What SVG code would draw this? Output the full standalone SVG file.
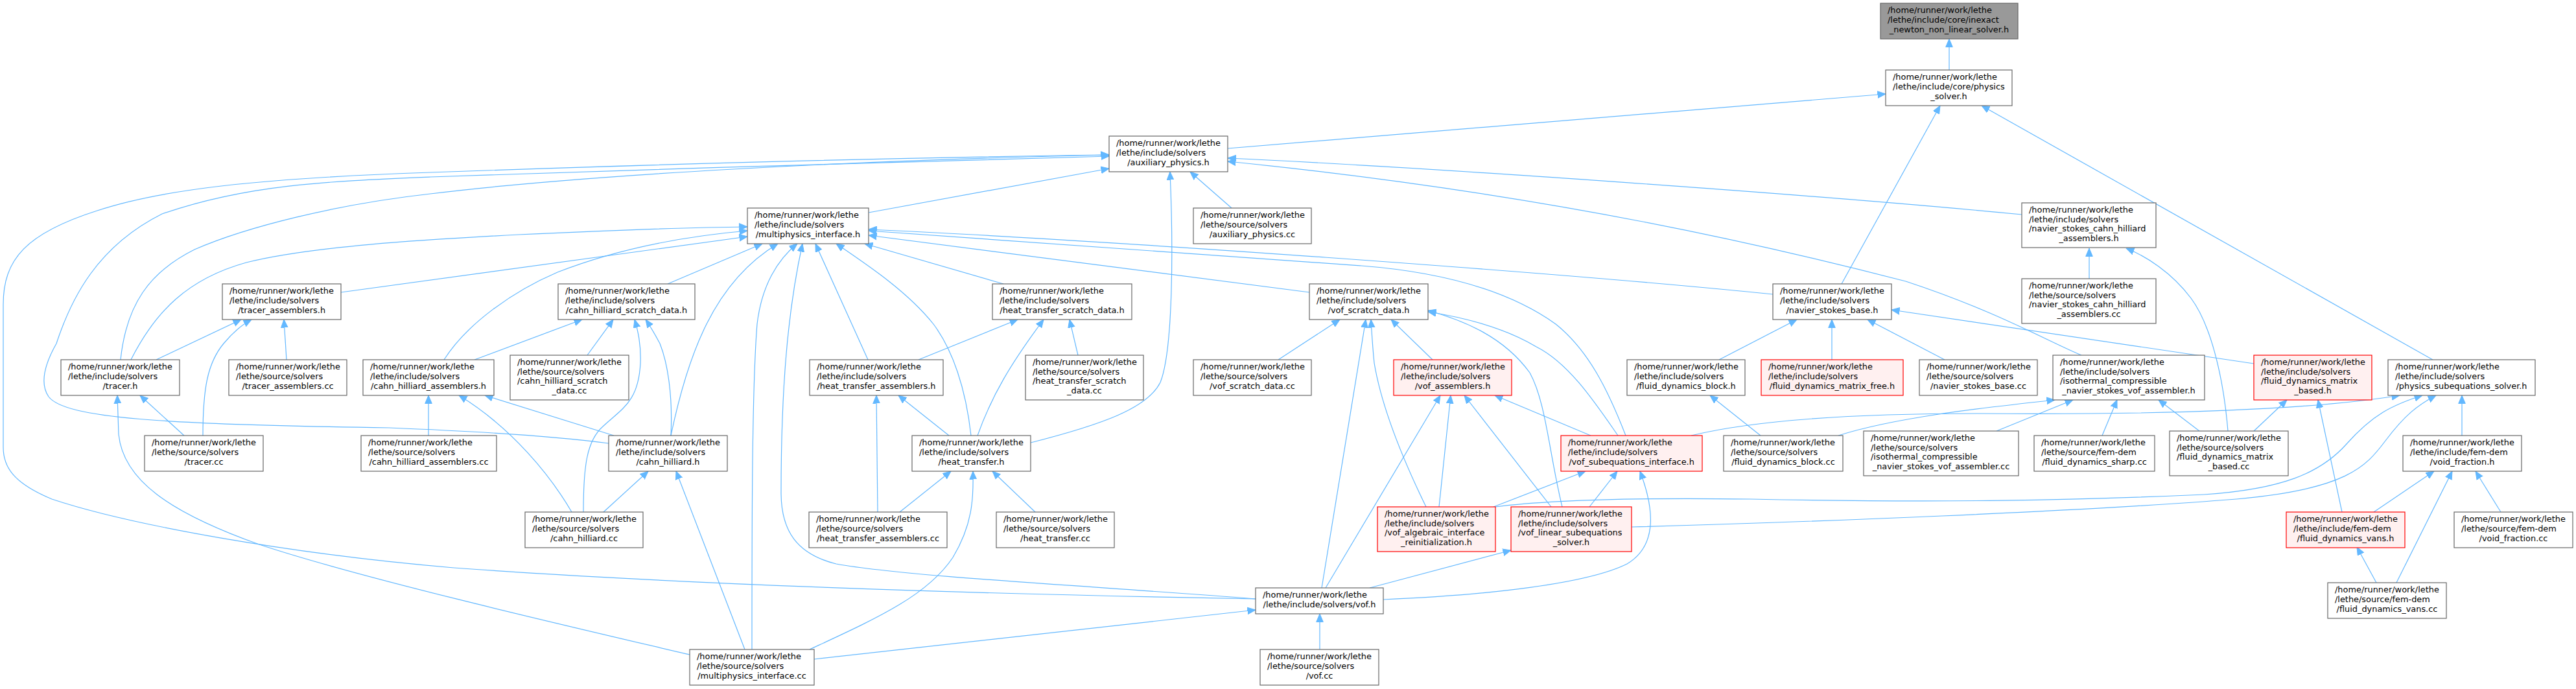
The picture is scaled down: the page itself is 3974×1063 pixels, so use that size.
<svg xmlns="http://www.w3.org/2000/svg" width="3974" height="1063" viewBox="0 0 3974 1063">
<style>
.node rect{fill:#ffffff;stroke:#666666;stroke-width:1.2}
.red rect{fill:#fff0f0;stroke:#ff0000}
.gray rect{fill:#999999}
text{font-family:"DejaVu Sans",sans-serif;font-size:12.9px;fill:#000000}
.c{text-anchor:middle}
.edge{fill:none;stroke:#63b8ff;stroke-width:1.2;marker-end:url(#arr)}
</style>
<defs>
<marker id="arr" markerUnits="userSpaceOnUse" viewBox="0 -6 13 12" markerWidth="13" markerHeight="12" refX="12.5" refY="0" orient="auto"><path d="M0,-5.3 L12.5,0 L0,5.3 Z" fill="#63b8ff" stroke="#63b8ff" stroke-width="1"/></marker>
</defs>
<rect x="0" y="0" width="3974" height="1063" fill="#ffffff"/>
<g id="connectors">
<path class="edge" d="M3007,108 L3007,60"/>
<path class="edge" d="M1894,229 L2909,145"/>
<path class="edge" d="M2841,438 L2993,163"/>
<path class="edge" d="M3753,555 L3057,163"/>
<path class="edge" d="M1937,924 C1600,918 1100,905 700,876 C450,855 200,810 80,770 C20,745 5,720 5,690 L5,470 C5,400 40,360 150,325 C250,292 400,275 664,266 C1000,254 1400,243 1711,239"/>
<path class="edge" d="M939,684 C850,672 700,664 600,660 C250,655 100,645 75,612 C60,590 70,560 87,530 C110,460 150,380 250,330 C380,285 500,280 664,273 C1000,262 1400,248 1711,241"/>
<path class="edge" d="M186,555 C195,470 230,420 300,385 C380,350 520,315 664,299 C900,270 1300,248 1711,239"/>
<path class="edge" d="M1340,328 L1711,260"/>
<path class="edge" d="M1590,683 C1700,655 1770,630 1790,590 C1810,540 1810,380 1805,265"/>
<path class="edge" d="M1900,321 L1836,265"/>
<path class="edge" d="M3119,331 C2800,300 2200,258 1894,244"/>
<path class="edge" d="M3211,548 C3160,527 3080,480 2940,434 C2750,385 2400,300 1894,249"/>
<path class="edge" d="M202,555 C240,480 290,430 380,405 C480,380 650,370 800,362 C950,355 1050,351 1153,350"/>
<path class="edge" d="M685,555 C720,500 790,450 860,420 C950,385 1050,365 1153,356"/>
<path class="edge" d="M526,451 L1153,365"/>
<path class="edge" d="M1030,438 L1176,376"/>
<path class="edge" d="M1035,672 C1050,600 1070,540 1090,500 C1120,440 1160,400 1200,376"/>
<path class="edge" d="M1160,1002 C1160,800 1160,600 1168,500 C1175,440 1200,400 1230,376"/>
<path class="edge" d="M1937,924 C1700,905 1400,890 1290,870 C1230,855 1205,820 1205,760 C1205,600 1215,480 1238,376"/>
<path class="edge" d="M1339,555 L1258,376"/>
<path class="edge" d="M1498,672 C1490,600 1470,540 1440,500 C1400,450 1340,410 1290,376"/>
<path class="edge" d="M1548,438 L1334,376"/>
<path class="edge" d="M2735,454 C2400,420 1700,370 1340,354"/>
<path class="edge" d="M2508,672 C2480,600 2450,540 2400,500 C2330,450 2230,420 2100,410 C1800,390 1500,365 1340,356"/>
<path class="edge" d="M2020,451 L1340,363"/>
<path class="edge" d="M241,555 L372,493"/>
<path class="edge" d="M313,672 C313,600 320,560 345,530 C360,512 375,500 388,493"/>
<path class="edge" d="M442,555 L438,493"/>
<path class="edge" d="M284,672 L216,610"/>
<path class="edge" d="M1064,1010 C850,960 550,890 400,840 C260,790 190,740 183,670 L181,610"/>
<path class="edge" d="M732,555 L898,493"/>
<path class="edge" d="M906,548 L946,493"/>
<path class="edge" d="M900,790 C900,720 905,680 930,658 C960,630 985,620 988,560 C989,530 984,510 979,493"/>
<path class="edge" d="M1035,672 C1038,610 1030,560 1018,530 C1010,515 1003,503 996,493"/>
<path class="edge" d="M661,672 L661,610"/>
<path class="edge" d="M882,790 C850,735 790,660 708,610"/>
<path class="edge" d="M947,672 L748,610"/>
<path class="edge" d="M931,790 L1000,727"/>
<path class="edge" d="M1149,1002 L1043,727"/>
<path class="edge" d="M1417,555 L1570,493"/>
<path class="edge" d="M1508,672 C1530,610 1560,560 1610,493"/>
<path class="edge" d="M1663,548 L1650,493"/>
<path class="edge" d="M1354,790 L1352,610"/>
<path class="edge" d="M1464,672 L1386,610"/>
<path class="edge" d="M1388,790 L1467,727"/>
<path class="edge" d="M1249,1002 C1350,955 1430,920 1470,860 C1500,810 1502,770 1501,727"/>
<path class="edge" d="M1597,790 L1531,727"/>
<path class="edge" d="M1972,555 L2067,493"/>
<path class="edge" d="M2039,907 L2107,493"/>
<path class="edge" d="M2200,782 C2160,700 2130,620 2120,560 C2117,530 2116,510 2115,493"/>
<path class="edge" d="M2210,555 L2146,493"/>
<path class="edge" d="M2410,782 C2390,700 2385,620 2360,575 C2320,520 2260,495 2203,479"/>
<path class="edge" d="M2496,672 C2460,620 2420,560 2370,535 C2320,505 2260,490 2203,481"/>
<path class="edge" d="M2045,907 L2222,610"/>
<path class="edge" d="M2220,782 L2238,610"/>
<path class="edge" d="M2393,782 L2259,610"/>
<path class="edge" d="M2454,672 L2306,610"/>
<path class="edge" d="M2304,782 L2446,727"/>
<path class="edge" d="M2452,782 L2495,727"/>
<path class="edge" d="M2134,925 C2300,918 2450,900 2510,870 C2560,840 2550,780 2530,727"/>
<path class="edge" d="M2113,907 L2331,849"/>
<path class="edge" d="M2036,1002 L2036,947"/>
<path class="edge" d="M1256,1017 L1937,941"/>
<path class="edge" d="M2609,672 C2700,650 2850,638 3050,638 C3300,640 3550,635 3702,610"/>
<path class="edge" d="M2307,782 C2400,770 2550,768 2700,770 C3000,776 3200,772 3400,763 C3520,755 3580,730 3620,685 C3660,640 3690,625 3737,610"/>
<path class="edge" d="M2517,813 C2800,805 3200,790 3450,770 C3620,755 3650,720 3680,680 C3710,640 3730,625 3758,610"/>
<path class="edge" d="M3798,672 L3798,610"/>
<path class="edge" d="M2652,555 L2772,493"/>
<path class="edge" d="M2826,555 L2826,493"/>
<path class="edge" d="M3000,555 L2881,493"/>
<path class="edge" d="M3477,561 L2918,478"/>
<path class="edge" d="M2716,672 L2638,610"/>
<path class="edge" d="M2836,672 C2920,645 3050,630 3170,617"/>
<path class="edge" d="M3080,665 L3198,617"/>
<path class="edge" d="M3243,672 L3266,617"/>
<path class="edge" d="M3393,665 L3330,617"/>
<path class="edge" d="M3437,665 C3430,580 3410,500 3380,460 C3350,420 3310,395 3280,383"/>
<path class="edge" d="M3223,430 L3223,383"/>
<path class="edge" d="M3477,665 L3528,617"/>
<path class="edge" d="M3613,790 L3576,617"/>
<path class="edge" d="M3662,790 L3755,727"/>
<path class="edge" d="M3697,899 L3783,727"/>
<path class="edge" d="M3858,790 L3819,727"/>
<path class="edge" d="M3666,899 L3636,844"/>
</g>
<g id="n_inexact" class="node gray"><rect x="2901" y="5" width="212" height="55"/><text x="2912" y="20.3">/home/runner/work/lethe</text><text x="2912" y="35">/lethe/include/core/inexact</text><text class="c" x="3007" y="49.7">_newton_non_linear_solver.h</text></g>
<g id="n_physics_solver" class="node"><rect x="2909" y="108" width="195" height="55"/><text x="2920" y="123.3">/home/runner/work/lethe</text><text x="2920" y="138">/lethe/include/core/physics</text><text class="c" x="3006.5" y="152.7">_solver.h</text></g>
<g id="n_aux_h" class="node"><rect x="1711" y="210" width="183" height="55"/><text x="1722" y="225.3">/home/runner/work/lethe</text><text x="1722" y="240">/lethe/include/solvers</text><text class="c" x="1802.5" y="254.7">/auxiliary_physics.h</text></g>
<g id="n_mpi_h" class="node"><rect x="1153" y="321" width="187" height="55"/><text x="1164" y="336.3">/home/runner/work/lethe</text><text x="1164" y="351">/lethe/include/solvers</text><text class="c" x="1246.5" y="365.7">/multiphysics_interface.h</text></g>
<g id="n_aux_cc" class="node"><rect x="1841" y="321" width="182" height="55"/><text x="1852" y="336.3">/home/runner/work/lethe</text><text x="1852" y="351">/lethe/source/solvers</text><text class="c" x="1932" y="365.7">/auxiliary_physics.cc</text></g>
<g id="n_nsch_h" class="node"><rect x="3119" y="313" width="207" height="69"/><text x="3130" y="328">/home/runner/work/lethe</text><text x="3130" y="342.7">/lethe/include/solvers</text><text x="3130" y="357.4">/navier_stokes_cahn_hilliard</text><text class="c" x="3222.5" y="372.1">_assemblers.h</text></g>
<g id="n_tracer_asm_h" class="node"><rect x="343" y="438" width="183" height="55"/><text x="354" y="453.3">/home/runner/work/lethe</text><text x="354" y="468">/lethe/include/solvers</text><text class="c" x="434.5" y="482.7">/tracer_assemblers.h</text></g>
<g id="n_chsd_h" class="node"><rect x="861" y="438" width="211" height="55"/><text x="872" y="453.3">/home/runner/work/lethe</text><text x="872" y="468">/lethe/include/solvers</text><text class="c" x="966.5" y="482.7">/cahn_hilliard_scratch_data.h</text></g>
<g id="n_htsd_h" class="node"><rect x="1531" y="438" width="215" height="55"/><text x="1542" y="453.3">/home/runner/work/lethe</text><text x="1542" y="468">/lethe/include/solvers</text><text class="c" x="1638.5" y="482.7">/heat_transfer_scratch_data.h</text></g>
<g id="n_vsd_h" class="node"><rect x="2020" y="438" width="183" height="55"/><text x="2031" y="453.3">/home/runner/work/lethe</text><text x="2031" y="468">/lethe/include/solvers</text><text class="c" x="2111.5" y="482.7">/vof_scratch_data.h</text></g>
<g id="n_nsb_h" class="node"><rect x="2735" y="438" width="183" height="55"/><text x="2746" y="453.3">/home/runner/work/lethe</text><text x="2746" y="468">/lethe/include/solvers</text><text class="c" x="2826.5" y="482.7">/navier_stokes_base.h</text></g>
<g id="n_nsch_cc" class="node"><rect x="3119" y="430" width="207" height="69"/><text x="3130" y="445">/home/runner/work/lethe</text><text x="3130" y="459.7">/lethe/source/solvers</text><text x="3130" y="474.4">/navier_stokes_cahn_hilliard</text><text class="c" x="3222.5" y="489.1">_assemblers.cc</text></g>
<g id="n_tracer_h" class="node"><rect x="94" y="555" width="183" height="55"/><text x="105" y="570.3">/home/runner/work/lethe</text><text x="105" y="585">/lethe/include/solvers</text><text class="c" x="185.5" y="599.7">/tracer.h</text></g>
<g id="n_tracer_asm_cc" class="node"><rect x="353" y="555" width="182" height="55"/><text x="364" y="570.3">/home/runner/work/lethe</text><text x="364" y="585">/lethe/source/solvers</text><text class="c" x="444" y="599.7">/tracer_assemblers.cc</text></g>
<g id="n_cha_h" class="node"><rect x="560" y="555" width="202" height="55"/><text x="571" y="570.3">/home/runner/work/lethe</text><text x="571" y="585">/lethe/include/solvers</text><text class="c" x="661" y="599.7">/cahn_hilliard_assemblers.h</text></g>
<g id="n_chsd_cc" class="node"><rect x="787" y="548" width="183" height="69"/><text x="798" y="563">/home/runner/work/lethe</text><text x="798" y="577.7">/lethe/source/solvers</text><text x="798" y="592.4">/cahn_hilliard_scratch</text><text class="c" x="878.5" y="607.1">_data.cc</text></g>
<g id="n_hta_h" class="node"><rect x="1249" y="555" width="206" height="55"/><text x="1260" y="570.3">/home/runner/work/lethe</text><text x="1260" y="585">/lethe/include/solvers</text><text class="c" x="1352" y="599.7">/heat_transfer_assemblers.h</text></g>
<g id="n_htsd_cc" class="node"><rect x="1582" y="548" width="182" height="69"/><text x="1593" y="563">/home/runner/work/lethe</text><text x="1593" y="577.7">/lethe/source/solvers</text><text x="1593" y="592.4">/heat_transfer_scratch</text><text class="c" x="1673" y="607.1">_data.cc</text></g>
<g id="n_vsd_cc" class="node"><rect x="1841" y="555" width="182" height="55"/><text x="1852" y="570.3">/home/runner/work/lethe</text><text x="1852" y="585">/lethe/source/solvers</text><text class="c" x="1932" y="599.7">/vof_scratch_data.cc</text></g>
<g id="n_vofasm_h" class="node red"><rect x="2150" y="555" width="182" height="55"/><text x="2161" y="570.3">/home/runner/work/lethe</text><text x="2161" y="585">/lethe/include/solvers</text><text class="c" x="2241" y="599.7">/vof_assemblers.h</text></g>
<g id="n_fdb_h" class="node"><rect x="2510" y="555" width="182" height="55"/><text x="2521" y="570.3">/home/runner/work/lethe</text><text x="2521" y="585">/lethe/include/solvers</text><text class="c" x="2601" y="599.7">/fluid_dynamics_block.h</text></g>
<g id="n_fdmf_h" class="node red"><rect x="2717" y="555" width="219" height="55"/><text x="2728" y="570.3">/home/runner/work/lethe</text><text x="2728" y="585">/lethe/include/solvers</text><text class="c" x="2826.5" y="599.7">/fluid_dynamics_matrix_free.h</text></g>
<g id="n_nsb_cc" class="node"><rect x="2961" y="555" width="182" height="55"/><text x="2972" y="570.3">/home/runner/work/lethe</text><text x="2972" y="585">/lethe/source/solvers</text><text class="c" x="3052" y="599.7">/navier_stokes_base.cc</text></g>
<g id="n_iso_h" class="node"><rect x="3167" y="548" width="234" height="69"/><text x="3178" y="563">/home/runner/work/lethe</text><text x="3178" y="577.7">/lethe/include/solvers</text><text x="3178" y="592.4">/isothermal_compressible</text><text class="c" x="3284" y="607.1">_navier_stokes_vof_assembler.h</text></g>
<g id="n_fdmb_h" class="node red"><rect x="3477" y="548" width="182" height="69"/><text x="3488" y="563">/home/runner/work/lethe</text><text x="3488" y="577.7">/lethe/include/solvers</text><text x="3488" y="592.4">/fluid_dynamics_matrix</text><text class="c" x="3568" y="607.1">_based.h</text></g>
<g id="n_pss_h" class="node"><rect x="3684" y="555" width="227" height="55"/><text x="3695" y="570.3">/home/runner/work/lethe</text><text x="3695" y="585">/lethe/include/solvers</text><text class="c" x="3797.5" y="599.7">/physics_subequations_solver.h</text></g>
<g id="n_tracer_cc" class="node"><rect x="223" y="672" width="183" height="55"/><text x="234" y="687.3">/home/runner/work/lethe</text><text x="234" y="702">/lethe/source/solvers</text><text class="c" x="314.5" y="716.7">/tracer.cc</text></g>
<g id="n_cha_cc" class="node"><rect x="557" y="672" width="209" height="55"/><text x="568" y="687.3">/home/runner/work/lethe</text><text x="568" y="702">/lethe/source/solvers</text><text class="c" x="661.5" y="716.7">/cahn_hilliard_assemblers.cc</text></g>
<g id="n_ch_h" class="node"><rect x="939" y="672" width="183" height="55"/><text x="950" y="687.3">/home/runner/work/lethe</text><text x="950" y="702">/lethe/include/solvers</text><text class="c" x="1030.5" y="716.7">/cahn_hilliard.h</text></g>
<g id="n_ht_h" class="node"><rect x="1407" y="672" width="183" height="55"/><text x="1418" y="687.3">/home/runner/work/lethe</text><text x="1418" y="702">/lethe/include/solvers</text><text class="c" x="1498.5" y="716.7">/heat_transfer.h</text></g>
<g id="n_vsi_h" class="node red"><rect x="2408" y="672" width="218" height="55"/><text x="2419" y="687.3">/home/runner/work/lethe</text><text x="2419" y="702">/lethe/include/solvers</text><text class="c" x="2517" y="716.7">/vof_subequations_interface.h</text></g>
<g id="n_fdb_cc" class="node"><rect x="2659" y="672" width="184" height="55"/><text x="2670" y="687.3">/home/runner/work/lethe</text><text x="2670" y="702">/lethe/source/solvers</text><text class="c" x="2751" y="716.7">/fluid_dynamics_block.cc</text></g>
<g id="n_iso_cc" class="node"><rect x="2875" y="665" width="239" height="69"/><text x="2886" y="680">/home/runner/work/lethe</text><text x="2886" y="694.7">/lethe/source/solvers</text><text x="2886" y="709.4">/isothermal_compressible</text><text class="c" x="2994.5" y="724.1">_navier_stokes_vof_assembler.cc</text></g>
<g id="n_fds_cc" class="node"><rect x="3138" y="672" width="186" height="55"/><text x="3149" y="687.3">/home/runner/work/lethe</text><text x="3149" y="702">/lethe/source/fem-dem</text><text class="c" x="3231" y="716.7">/fluid_dynamics_sharp.cc</text></g>
<g id="n_fdmb_cc" class="node"><rect x="3347" y="665" width="183" height="69"/><text x="3358" y="680">/home/runner/work/lethe</text><text x="3358" y="694.7">/lethe/source/solvers</text><text x="3358" y="709.4">/fluid_dynamics_matrix</text><text class="c" x="3438.5" y="724.1">_based.cc</text></g>
<g id="n_vf_h" class="node"><rect x="3707" y="672" width="183" height="55"/><text x="3718" y="687.3">/home/runner/work/lethe</text><text x="3718" y="702">/lethe/include/fem-dem</text><text class="c" x="3798.5" y="716.7">/void_fraction.h</text></g>
<g id="n_ch_cc" class="node"><rect x="810" y="790" width="182" height="55"/><text x="821" y="805.3">/home/runner/work/lethe</text><text x="821" y="820">/lethe/source/solvers</text><text class="c" x="901" y="834.7">/cahn_hilliard.cc</text></g>
<g id="n_hta_cc" class="node"><rect x="1248" y="790" width="213" height="55"/><text x="1259" y="805.3">/home/runner/work/lethe</text><text x="1259" y="820">/lethe/source/solvers</text><text class="c" x="1354.5" y="834.7">/heat_transfer_assemblers.cc</text></g>
<g id="n_ht_cc" class="node"><rect x="1537" y="790" width="182" height="55"/><text x="1548" y="805.3">/home/runner/work/lethe</text><text x="1548" y="820">/lethe/source/solvers</text><text class="c" x="1628" y="834.7">/heat_transfer.cc</text></g>
<g id="n_vofalg_h" class="node red"><rect x="2125" y="782" width="182" height="69"/><text x="2136" y="797">/home/runner/work/lethe</text><text x="2136" y="811.7">/lethe/include/solvers</text><text x="2136" y="826.4">/vof_algebraic_interface</text><text class="c" x="2216" y="841.1">_reinitialization.h</text></g>
<g id="n_voflin_h" class="node red"><rect x="2331" y="782" width="186" height="69"/><text x="2342" y="797">/home/runner/work/lethe</text><text x="2342" y="811.7">/lethe/include/solvers</text><text x="2342" y="826.4">/vof_linear_subequations</text><text class="c" x="2424" y="841.1">_solver.h</text></g>
<g id="n_vans_h" class="node red"><rect x="3527" y="790" width="183" height="55"/><text x="3538" y="805.3">/home/runner/work/lethe</text><text x="3538" y="820">/lethe/include/fem-dem</text><text class="c" x="3618.5" y="834.7">/fluid_dynamics_vans.h</text></g>
<g id="n_vf_cc" class="node"><rect x="3786" y="790" width="183" height="55"/><text x="3797" y="805.3">/home/runner/work/lethe</text><text x="3797" y="820">/lethe/source/fem-dem</text><text class="c" x="3877.5" y="834.7">/void_fraction.cc</text></g>
<g id="n_vof_h" class="node"><rect x="1937" y="907" width="197" height="40"/><text x="1948" y="922.2">/home/runner/work/lethe</text><text class="c" x="2035.5" y="936.9">/lethe/include/solvers/vof.h</text></g>
<g id="n_vans_cc" class="node"><rect x="3591" y="899" width="183" height="55"/><text x="3602" y="914.3">/home/runner/work/lethe</text><text x="3602" y="929">/lethe/source/fem-dem</text><text class="c" x="3682.5" y="943.7">/fluid_dynamics_vans.cc</text></g>
<g id="n_mpi_cc" class="node"><rect x="1064" y="1002" width="192" height="55"/><text x="1075" y="1017.3">/home/runner/work/lethe</text><text x="1075" y="1032">/lethe/source/solvers</text><text class="c" x="1160" y="1046.7">/multiphysics_interface.cc</text></g>
<g id="n_vof_cc" class="node"><rect x="1944" y="1002" width="183" height="55"/><text x="1955" y="1017.3">/home/runner/work/lethe</text><text x="1955" y="1032">/lethe/source/solvers</text><text class="c" x="2035.5" y="1046.7">/vof.cc</text></g>
</svg>
